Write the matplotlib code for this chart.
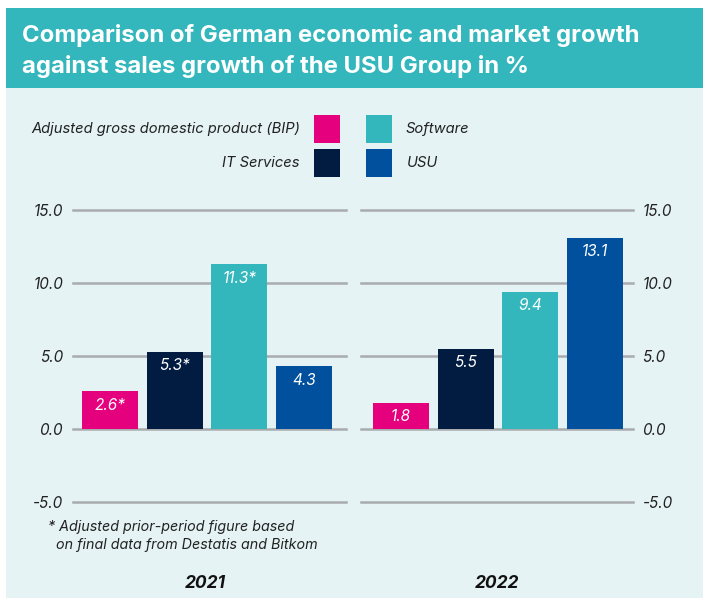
import matplotlib
matplotlib.use("Agg")
import matplotlib.pyplot as plt
from matplotlib.patches import Rectangle

plt.rcParams['font.family'] = ['Inter', 'DejaVu Sans']

# ---- data ----
series = ["Adjusted gross domestic product (BIP)", "IT Services", "Software", "USU"]
colors = ["#E5007D", "#021B41", "#33B7BC", "#00509E"]
years = ["2021", "2022"]
values_2021 = [2.6, 5.3, 11.3, 4.3]
labels_2021 = ["2.6*", "5.3*", "11.3*", "4.3"]
values_2022 = [1.8, 5.5, 9.4, 13.1]
labels_2022 = ["1.8", "5.5", "9.4", "13.1"]
yticks = [-5.0, 0.0, 5.0, 10.0, 15.0]
ytick_labels = ["-5.0", "0.0", "5.0", "10.0", "15.0"]
title = "Comparison of German economic and market growth\nagainst sales growth of the USU Group in %"
footnote = "* Adjusted prior-period figure based\n  on final data from Destatis and Bitkom"

W, H = 703, 598
fig = plt.figure(figsize=(W / 100, H / 100), dpi=100, facecolor="white")

def fx(px):
    return px / W

def fy(py):
    return 1 - py / H

# background panel & title band
fig.patches.append(Rectangle((fx(6), 0), 1 - fx(6), fy(8), transform=fig.transFigure,
                             facecolor="#E5F3F4", edgecolor="none", zorder=-3))
fig.patches.append(Rectangle((fx(6), fy(88)), 1 - fx(6), fy(8) - fy(88), transform=fig.transFigure,
                             facecolor="#33B7BC", edgecolor="none", zorder=-2))
fig.text(fx(22), fy(51), title, color="white", fontsize=17.2, fontweight="bold",
         ha="left", va="center", linespacing=1.4)

# legend (manual)
sq_w, sq_h = 26, 28
leg_rows = [(129, 0, 2), (163, 1, 3)]
for yc, li, ri in leg_rows:
    fig.text(fx(300), fy(yc), series[li], fontsize=10.6, style="italic", color="#222222",
             ha="right", va="center")
    fig.patches.append(Rectangle((fx(314), fy(yc + sq_h / 2)), fx(sq_w), sq_h / H,
                                 transform=fig.transFigure, facecolor=colors[li], edgecolor="none"))
    fig.patches.append(Rectangle((fx(366), fy(yc + sq_h / 2)), fx(sq_w), sq_h / H,
                                 transform=fig.transFigure, facecolor=colors[ri], edgecolor="none"))
    fig.text(fx(406), fy(yc), series[ri], fontsize=10.6, style="italic", color="#222222",
             ha="left", va="center")

y_top, y_bot = 210, 502
panels = [
    (73, 346, values_2021, labels_2021, "left", (-0.572, 3.649)),
    (361, 633, values_2022, labels_2022, "right", (-0.618, 3.587)),
]
width = 0.866
for (x0, x1, vals, labs, side, xl) in panels:
    ax = fig.add_axes([fx(x0), fy(y_bot), fx(x1 - x0), fy(y_top) - fy(y_bot)])
    ax.set_facecolor("none")
    ax.set_ylim(-5, 15)
    ax.set_xlim(*xl)
    for s in ax.spines.values():
        s.set_visible(False)
    for t in yticks:
        ax.axhline(t, color="#A9ACAE", linewidth=1.8, zorder=1, clip_on=False)
    xs = range(len(vals))
    ax.bar(xs, vals, width=width, color=colors, zorder=2)
    for x, v, l in zip(xs, vals, labs):
        ax.text(x, v - 0.45, l, color="white", fontsize=11, style="italic",
                ha="center", va="top", zorder=3)
    ax.set_xticks([])
    ax.set_yticks(yticks)
    ax.set_yticklabels(ytick_labels, fontsize=11, style="italic", color="#222222")
    ax.tick_params(axis="y", length=0, pad=7)
    if side == "right":
        ax.yaxis.tick_right()
        ax.tick_params(axis="y", length=0, pad=7)

fig.text(fx(48), fy(536), footnote, fontsize=10.3, style="italic", color="#222222",
         ha="left", va="center", linespacing=1.3)
fig.text(fx(205), fy(584), years[0], fontsize=12.5, style="italic", fontweight="bold",
         color="#111111", ha="center", va="center")
fig.text(fx(497), fy(584), years[1], fontsize=12.5, style="italic", fontweight="bold",
         color="#111111", ha="center", va="center")

fig.savefig("out.png", dpi=100, facecolor="white")
